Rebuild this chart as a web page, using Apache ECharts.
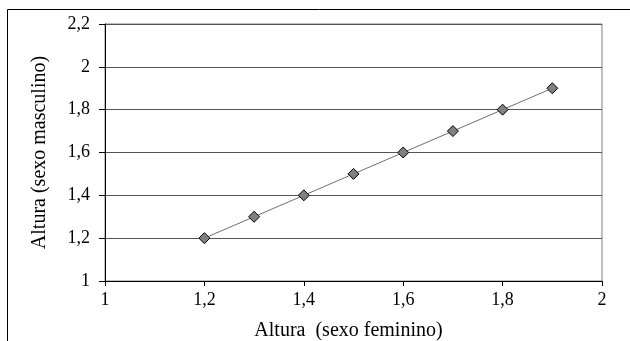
<!DOCTYPE html>
<html><head><meta charset="utf-8">
<script src="https://cdn.jsdelivr.net/npm/echarts@6/dist/echarts.min.js"></script>
<style>html,body{margin:0;padding:0;background:#fff}#c{width:630px;height:341px}</style>
</head><body><div id="c"></div>
<script>
const xFeminino = [1.2, 1.3, 1.4, 1.5, 1.6, 1.7, 1.8, 1.9];
const yMasculino = [1.2, 1.3, 1.4, 1.5, 1.6, 1.7, 1.8, 1.9];
const xAxisName = 'Altura  (sexo feminino)';
const yAxisName = 'Altura (sexo masculino)';

const pts = xFeminino.map((x, i) => [x, yMasculino[i]]);
const fmt = v => String(Math.round(v * 10) / 10).replace('.', ',');
const font = 'Liberation Serif, Times New Roman, serif';
const chart = echarts.init(document.getElementById('c'), null, {renderer: 'canvas'});
chart.setOption({
  animation: false,
  backgroundColor: '#fff',
  graphic: [{type: 'rect', shape: {x: 7.5, y: 9.5, width: 800, height: 500},
             style: {fill: 'none', stroke: '#000', lineWidth: 1}, silent: true}],
  grid: {left: 105, right: 28, top: 24, bottom: 60, show: true, borderColor: '#808080', borderWidth: 1,
         containLabel: false, outerBoundsMode: 'none'},
  xAxis: {
    type: 'value', min: 1, max: 2, interval: 0.2,
    name: xAxisName, nameLocation: 'middle', nameGap: 40,
    nameTextStyle: {fontFamily: font, fontSize: 20, color: '#000', padding: [0, 10, 0, 0]},
    axisLine: {show: true, onZero: false, lineStyle: {color: '#000', width: 1}},
    axisTick: {show: true, inside: false, length: 5, lineStyle: {color: '#000'}},
    axisLabel: {fontFamily: font, fontSize: 18, color: '#000', margin: 10, formatter: fmt},
    splitLine: {show: false}
  },
  yAxis: {
    type: 'value', min: 1, max: 2.2, interval: 0.2,
    name: yAxisName, nameLocation: 'middle', nameGap: 55, nameRotate: 90,
    nameTextStyle: {fontFamily: font, fontSize: 20, color: '#000'},
    axisLine: {show: true, onZero: false, lineStyle: {color: '#000', width: 1}},
    axisTick: {show: true, inside: false, length: 6, lineStyle: {color: '#000'}},
    axisLabel: {fontFamily: font, fontSize: 18, color: '#000', margin: 15, formatter: fmt},
    splitLine: {show: true, lineStyle: {color: '#555', width: 1}}
  },
  series: [{
    type: 'line', data: pts,
    symbol: 'diamond', symbolSize: 11,
    lineStyle: {color: '#707070', width: 1},
    itemStyle: {color: '#808080', borderColor: '#000', borderWidth: 1}
  }]
});
</script></body></html>
